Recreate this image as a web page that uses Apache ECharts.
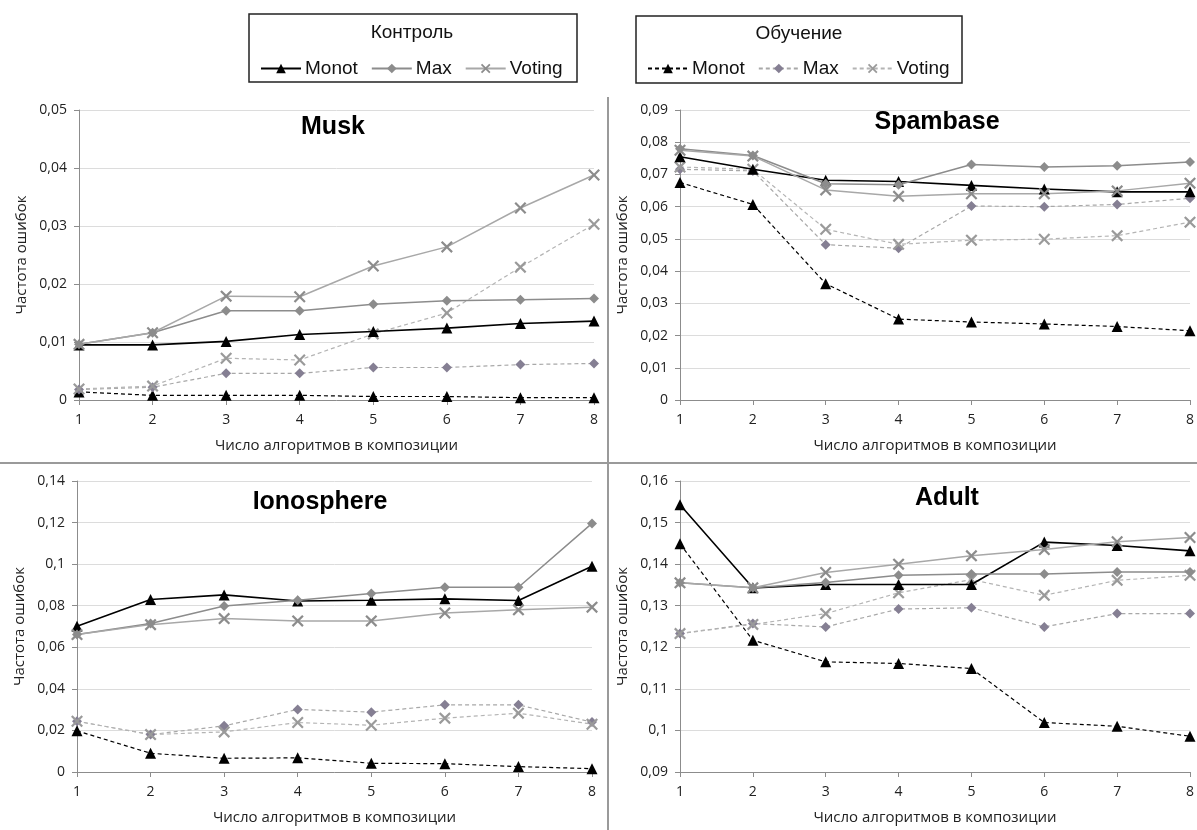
<!DOCTYPE html>
<html>
<head>
<meta charset="utf-8">
<script src="https://cdn.jsdelivr.net/npm/echarts@6/dist/echarts.min.js"></script>
<style>
  html, body { margin: 0; padding: 0; background: #fff; }
  #chart { width: 1197px; height: 830px; }
</style>
</head>
<body>
<div id="chart"></div>
<script>
// number of algorithms in the composition
const steps = ['1', '2', '3', '4', '5', '6', '7', '8'];

// Musk
const muskCtrlMonot  = [0.0095, 0.0095, 0.0101, 0.0113, 0.0118, 0.0124, 0.0132, 0.0136];
const muskCtrlMax    = [0.0096, 0.0116, 0.0154, 0.0154, 0.0165, 0.0171, 0.0173, 0.0175];
const muskCtrlVoting = [0.0096, 0.0116, 0.0179, 0.0178, 0.0231, 0.0264, 0.0331, 0.0388];
const muskTrMonot    = [0.0014, 0.0008, 0.0008, 0.0008, 0.0006, 0.0006, 0.0004, 0.0004];
const muskTrMax      = [0.0018, 0.0022, 0.0046, 0.0046, 0.0056, 0.0056, 0.0061, 0.0063];
const muskTrVoting   = [0.0019, 0.0024, 0.0072, 0.0069, 0.0114, 0.0150, 0.0229, 0.0303];

// Spambase
const spamCtrlMonot  = [0.0755, 0.0716, 0.0682, 0.0678, 0.0666, 0.0655, 0.0646, 0.0646];
const spamCtrlMax    = [0.0780, 0.0759, 0.0671, 0.0668, 0.0731, 0.0723, 0.0727, 0.0739];
const spamCtrlVoting = [0.0775, 0.0757, 0.0652, 0.0632, 0.0640, 0.0640, 0.0649, 0.0673];
const spamTrMonot    = [0.0675, 0.0607, 0.0361, 0.0251, 0.0242, 0.0236, 0.0228, 0.0215];
const spamTrMax      = [0.0716, 0.0711, 0.0482, 0.0471, 0.0602, 0.0600, 0.0607, 0.0626];
const spamTrVoting   = [0.0723, 0.0716, 0.0530, 0.0483, 0.0496, 0.0499, 0.0510, 0.0552];

// Ionosphere
const ionoCtrlMonot  = [0.0701, 0.0830, 0.0852, 0.0823, 0.0826, 0.0833, 0.0825, 0.0990];
const ionoCtrlMax    = [0.0661, 0.0714, 0.0799, 0.0826, 0.0859, 0.0889, 0.0889, 0.1196];
const ionoCtrlVoting = [0.0661, 0.0709, 0.0738, 0.0727, 0.0727, 0.0765, 0.0780, 0.0793];
const ionoTrMonot    = [0.0198, 0.0090, 0.0066, 0.0068, 0.0042, 0.0040, 0.0026, 0.0016];
const ionoTrMax      = [0.0244, 0.0180, 0.0222, 0.0301, 0.0288, 0.0323, 0.0323, 0.0240];
const ionoTrVoting   = [0.0244, 0.0180, 0.0193, 0.0238, 0.0225, 0.0259, 0.0283, 0.0230];

// Adult
const adultCtrlMonot  = [0.1543, 0.1343, 0.1351, 0.1351, 0.1351, 0.1453, 0.1445, 0.1432];
const adultCtrlMax    = [0.1355, 0.1343, 0.1356, 0.1373, 0.1376, 0.1376, 0.1381, 0.1381];
const adultCtrlVoting = [0.1355, 0.1343, 0.1380, 0.1400, 0.1420, 0.1435, 0.1454, 0.1464];
const adultTrMonot    = [0.1449, 0.1217, 0.1165, 0.1161, 0.1149, 0.1019, 0.1010, 0.0986];
const adultTrMax      = [0.1233, 0.1257, 0.1249, 0.1292, 0.1295, 0.1249, 0.1281, 0.1281];
const adultTrVoting   = [0.1233, 0.1255, 0.1281, 0.1331, 0.1363, 0.1325, 0.1361, 0.1373];

const panelNames = ['Musk', 'Spambase', 'Ionosphere', 'Adult'];
const yMin = [0, 0, 0, 0.09];
const yMax = [0.05, 0.09, 0.14, 0.16];
const yStep = [0.01, 0.01, 0.02, 0.01];

const xName = 'Число алгоритмов в композиции';
const yName = 'Частота ошибок';

const panels = [
  [muskCtrlMonot, muskCtrlMax, muskCtrlVoting, muskTrMonot, muskTrMax, muskTrVoting],
  [spamCtrlMonot, spamCtrlMax, spamCtrlVoting, spamTrMonot, spamTrMax, spamTrVoting],
  [ionoCtrlMonot, ionoCtrlMax, ionoCtrlVoting, ionoTrMonot, ionoTrMax, ionoTrVoting],
  [adultCtrlMonot, adultCtrlMax, adultCtrlVoting, adultTrMonot, adultTrMax, adultTrVoting]
];

const X_SYMBOL = 'path://M0,1.3 L1.3,0 L5,3.7 L8.7,0 L10,1.3 L6.3,5 L10,8.7 L8.7,10 L5,6.3 L1.3,10 L0,8.7 L3.7,5 Z';

// series look: control = solid, training (обучение) = dashed; training names carry a trailing space
const styles = [
  { name: 'Monot',   symbol: 'triangle', size: 11, mark: '#000',    line: '#000',    width: 1.6, type: 'solid' },
  { name: 'Max',     symbol: 'diamond',  size: 10, mark: '#8c8c8c', line: '#8c8c8c', width: 1.5, type: 'solid' },
  { name: 'Voting',  symbol: X_SYMBOL,   size: 12, mark: '#8c8c8c', line: '#a8a8a8', width: 1.5, type: 'solid' },
  { name: 'Monot ',  symbol: 'triangle', size: 11, mark: '#000',    line: '#000',    width: 1.2, type: [4, 3] },
  { name: 'Max ',    symbol: 'diamond',  size: 10, mark: '#857f93', line: '#a8a8a8', width: 1.2, type: [4, 3] },
  { name: 'Voting ', symbol: X_SYMBOL,   size: 12, mark: '#9a9a9a', line: '#b4b4b4', width: 1.2, type: [4, 3] }
];

const grids = [
  { left: 79,  top: 110, width: 515, height: 290 },
  { left: 680, top: 110, width: 514, height: 290 },
  { left: 77,  top: 481, width: 515, height: 291 },
  { left: 680, top: 481, width: 514, height: 291 }
];

const tickFont = "'Open Sans', 'Noto Sans', sans-serif";
const fmt = v => String(+v.toFixed(2)).replace('.', ',');

const xAxis = grids.map((g, i) => ({
  gridIndex: i,
  type: 'category',
  data: steps,
  boundaryGap: false,
  name: xName,
  nameLocation: 'middle',
  nameGap: 38,
  nameTextStyle: { fontFamily: tickFont, fontSize: 15, color: '#222' },
  axisLine: { lineStyle: { color: '#8c8c8c', width: 1 } },
  axisTick: { show: true, length: 5, lineStyle: { color: '#8c8c8c' } },
  axisLabel: { fontFamily: tickFont, fontSize: 14, color: '#222', margin: 13 },
  splitLine: { show: false }
}));

const yAxis = grids.map((g, i) => ({
  gridIndex: i,
  type: 'value',
  min: yMin[i],
  max: yMax[i],
  interval: yStep[i],
  name: yName,
  nameLocation: 'middle',
  nameGap: 50,
  nameTextStyle: { fontFamily: tickFont, fontSize: 15, color: '#222' },
  axisLine: { show: true, lineStyle: { color: '#8c8c8c', width: 1 } },
  axisTick: { show: true, length: 5, lineStyle: { color: '#8c8c8c' } },
  axisLabel: { fontFamily: tickFont, fontSize: 14, color: '#222', margin: 12, formatter: fmt },
  splitLine: { show: true, lineStyle: { color: '#dcdcdc', width: 1 } }
}));

const series = [];
panels.forEach((sets, gi) => {
  sets.forEach((vals, si) => {
    const s = styles[si];
    series.push({
      name: s.name,
      type: 'line',
      xAxisIndex: gi,
      yAxisIndex: gi,
      data: vals,
      symbol: s.symbol,
      symbolSize: s.size,
      showAllSymbol: true,
      z: si < 3 ? 3 : 2,
      itemStyle: { color: s.mark, borderWidth: 0 },
      lineStyle: { color: s.line, width: s.width, type: s.type },
      emphasis: { disabled: true },
      animation: false
    });
  });
});

const legendFont = "'Liberation Sans', Arial, sans-serif";
const legendBase = {
  orient: 'horizontal',
  top: 54,
  itemWidth: 40,
  itemHeight: 12,
  itemGap: 13,
  selectedMode: false,
  textStyle: { fontFamily: legendFont, fontSize: 19, color: '#111', padding: [0, 0, 0, -1] }
};

const titleText = (text, x, y) => ({
  type: 'text',
  x: x, y: y,
  style: {
    text: text, fill: '#000',
    font: "bold 25px 'Liberation Sans', Arial, sans-serif",
    align: 'center', verticalAlign: 'middle',
    textAlign: 'center', textVerticalAlign: 'middle'
  }
});

const plainText = (text, x, y) => ({
  type: 'text',
  x: x, y: y,
  style: {
    text: text, fill: '#111',
    font: "19px 'Liberation Sans', Arial, sans-serif",
    align: 'center', verticalAlign: 'middle',
    textAlign: 'center', textVerticalAlign: 'middle'
  }
});

const option = {
  backgroundColor: '#fff',
  animation: false,
  grid: grids.map(g => Object.assign({ containLabel: false }, g)),
  xAxis: xAxis,
  yAxis: yAxis,
  legend: [
    Object.assign({}, legendBase, { left: 255, data: ['Monot', 'Max', 'Voting'] }),
    Object.assign({}, legendBase, { left: 642, data: ['Monot ', 'Max ', 'Voting '], formatter: n => n.trim() })
  ],
  graphic: [
    { type: 'rect', shape: { x: 249, y: 14, width: 328, height: 68 }, style: { fill: 'none', stroke: '#222', lineWidth: 1.5 } },
    { type: 'rect', shape: { x: 636, y: 16, width: 326, height: 67 }, style: { fill: 'none', stroke: '#222', lineWidth: 1.5 } },
    plainText('Контроль', 412, 33),
    plainText('Обучение', 799, 34),
    { type: 'line', shape: { x1: 608, y1: 97, x2: 608, y2: 830 }, style: { stroke: '#9a9a9a', lineWidth: 2 } },
    { type: 'line', shape: { x1: 0, y1: 463, x2: 1197, y2: 463 }, style: { stroke: '#9a9a9a', lineWidth: 2 } },
    titleText(panelNames[0], 333, 127),
    titleText(panelNames[1], 937, 122),
    titleText(panelNames[2], 320, 502),
    titleText(panelNames[3], 947, 498)
  ],
  series: series
};

const chart = echarts.init(document.getElementById('chart'), null, { renderer: 'canvas' });
chart.setOption(option);
</script>
</body>
</html>
